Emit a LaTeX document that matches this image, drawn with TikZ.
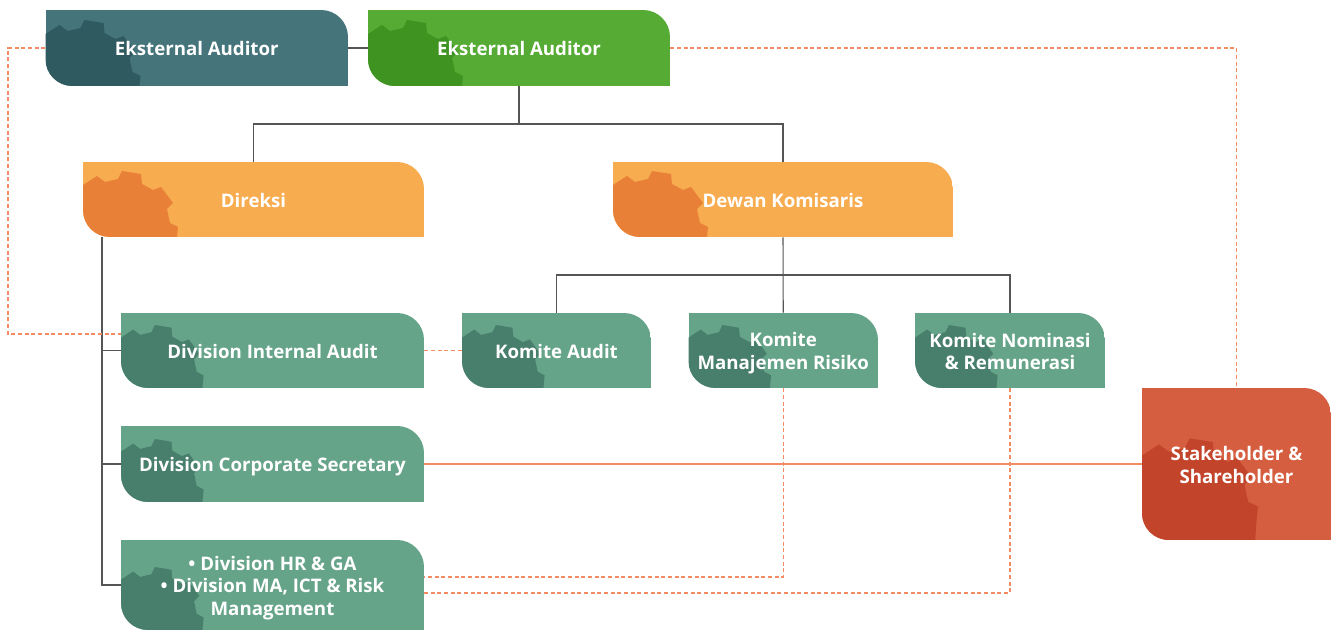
\documentclass[tikz,border=0pt]{standalone}
\usepackage{fontspec}
\setmainfont{Open Sans}
\definecolor{teal}{HTML}{45747B}
\definecolor{tealgear}{HTML}{2F5A60}
\definecolor{leaf}{HTML}{55AB33}
\definecolor{leafgear}{HTML}{3F9321}
\definecolor{amber}{HTML}{F8AC50}
\definecolor{ambergear}{HTML}{E88137}
\definecolor{sage}{HTML}{66A48A}
\definecolor{sagegear}{HTML}{487F6C}
\definecolor{brick}{HTML}{D65E40}
\definecolor{brickgear}{HTML}{C2442A}
\definecolor{linegrey}{HTML}{555555}
\definecolor{linesalmon}{HTML}{F58B63}
\newcommand{\boxstrut}{\rule[-2.7pt]{0pt}{16.9pt}}
\newcommand{\topgap}{\rule{0pt}{15pt}}
\tikzstyle{every node}=[text centered, inner sep=0pt]
\tikzstyle{boxtext}=[text=white, font=\fontsize{14}{16.9}\selectfont\bfseries, align=center,
  execute at begin node=\boxstrut, execute at end node=\boxstrut]
\tikzstyle{tree}=[draw=linegrey, line width=0.8pt]
\tikzstyle{dashlink}=[draw=linesalmon, line width=0.9pt, dash pattern=on 3pt off 2pt]
\tikzstyle{solidlink}=[draw=linesalmon, line width=1.1pt]
% [gear options]{name}{colour}{x1}{y1}{x2}{y2}{text}
\newcommand{\orgbox}[8][scale=1]{%
  \begin{scope}
    \clip (#4,#5) -- ({#6-27},#5) .. controls ({#6-12},#5) and (#6,{#5+12}) .. (#6,{#5+27})
      -- (#6,#7) -- ({#4+27},#7) .. controls ({#4+12},#7) and (#4,{#7-12}) .. (#4,{#7-27}) -- cycle;
    \fill[#3] (#4,#5) rectangle (#6,#7);
    \fill[#3gear, shift={(#4,#7)}, #1] (0,-52) -- (14,-61) -- (22,-55) -- (35,-58) -- (39,-66) -- (58,-63)
      -- (59,-53) -- (70,-47) -- (78,-50) -- (90,-34) -- (84,-28) -- (87,-14) -- (95,-10) -- (94,0)
      -- (92,30) -- (0,30) -- cycle;
  \end{scope}
  \node[boxtext, minimum width={(#6-#4)*0.75pt}, minimum height={(#7-#5)*0.75pt}] (#2)
    at ({(#4+#6)/2},{(#5+#7)/2}) {#8};
}
\begin{document}
\begin{tikzpicture}[x=0.75pt, y=-0.75pt]
  \useasboundingbox (0,0) rectangle (1336,630);

  \orgbox{extaudit}{teal}{45.5}{10}{348}{86}{Eksternal Auditor}
  \orgbox{intaudit}{leaf}{368}{10}{670}{86}{Eksternal Auditor}
  \orgbox{direksi}{amber}{83}{162}{424}{237}{Direksi}
  \orgbox{dewan}{amber}{613}{162}{953}{237}{Dewan Komisaris}
  \orgbox[xscale=0.87, yscale=0.9, yshift=3]{divaudit}{sage}{121}{313}{424}{388}{Division Internal Audit}
  \orgbox[xscale=0.87, yscale=0.9, yshift=3]{komaudit}{sage}{462}{313}{651}{388}{Komite Audit}
  \orgbox[xscale=0.87, yscale=0.9, yshift=3]{komrisk}{sage}{688.5}{313}{878}{388}{\topgap Komite\\Manajemen Risiko}
  \orgbox[xscale=0.87, yscale=0.9, yshift=3]{komnom}{sage}{915}{313}{1105}{388}{\topgap Komite Nominasi\\\& Remunerasi}
  \orgbox[xscale=0.87, yscale=0.9, yshift=3]{divsec}{sage}{121}{426}{424}{502}{Division Corporate Secretary}
  \orgbox[xscale=0.87, yscale=0.9, yshift=3]{divhr}{sage}{121}{540}{424}{630}{\topgap • Division HR \& GA\\• Division MA, ICT \& Risk\\Management}
  \orgbox[scale=1.22, yshift=13]{stake}{brick}{1142}{388}{1331}{540}{\topgap Stakeholder \&\\Shareholder}

  % free ends of the connectors
  \coordinate (trunk) at (102,237);
  \coordinate (leftrail) at (8,334);
  \coordinate (auditport) at (121,334);
  \coordinate (riskport) at (424,577);
  \coordinate (nomport) at (424,593);
  \coordinate (topbus) at (519,124);
  \coordinate (midbus) at (783,275);

  \draw[tree] (extaudit.east) -- (intaudit.west);
  \draw[tree] (intaudit.south) -- (topbus);
  \draw[tree] (topbus) -| (direksi.north);
  \draw[tree] (topbus) -| (dewan.north);
  \draw[tree] (dewan.south) -- (komrisk.north);
  \draw[tree] (midbus) -| (komaudit.north);
  \draw[tree] (midbus) -| (komnom.north);
  \draw[tree] (trunk) |- (divaudit.west);
  \draw[tree] (trunk) |- (divsec.west);
  \draw[tree] (trunk) |- (divhr.west);

  \draw[dashlink] (extaudit.west) -| (leftrail) -- (auditport);
  \draw[dashlink] (intaudit.east) -| (stake.north);
  \draw[dashlink] (divaudit.east) -- (komaudit.west);
  \draw[dashlink] (komrisk.south) |- (riskport);
  \draw[dashlink] (komnom.south) |- (nomport);
  \draw[solidlink] (divsec.east) -- (stake.west);
\end{tikzpicture}
\end{document}
